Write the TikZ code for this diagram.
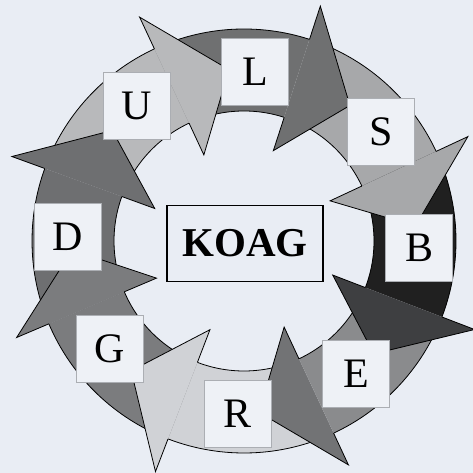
\documentclass[tikz,border=0pt]{standalone}
\usepackage{fontspec}
\setmainfont{Liberation Serif}
\definecolor{bgc}{HTML}{E9EDF4}
\definecolor{boxc}{HTML}{EEF1F6}
\definecolor{boxline}{HTML}{ABAEB3}
\definecolor{cU}{HTML}{B8B9BB}
\definecolor{cL}{HTML}{6F7071}
\definecolor{cS}{HTML}{A7A8AA}
\definecolor{cB}{HTML}{202020}
\definecolor{cBh}{HTML}{3E3F41}
\definecolor{cE}{HTML}{8A8B8D}
\definecolor{cEh}{HTML}{727375}
\definecolor{cR}{HTML}{D0D2D6}
\definecolor{cG}{HTML}{7B7C7E}
\definecolor{cD}{HTML}{6E6F71}
\newcommand\ringbody[3]{%
  \fill[#3] (#1:212pt) arc[start angle=#1, end angle=#2, radius=212pt]
     -- (#2:130pt) arc[start angle=#2, end angle=#1, radius=130pt] -- cycle;
  \draw[ringline] (#1:212pt) arc[start angle=#1, end angle=#2, radius=212pt];
  \draw[ringline] (#2:130pt) arc[start angle=#2, end angle=#1, radius=130pt];}
\newcommand\ringhead[2]{%
  \fill[#2] (#1:247pt) -- ({#1-20}:172pt) -- (#1:95pt) -- cycle;
  \draw[ringline] (#1:212pt) -- (#1:247pt) -- ({#1-20}:172pt) -- (#1:95pt) -- (#1:130pt);}
\begin{document}
\begin{tikzpicture}[x=1pt,y=1pt,
  ringline/.style={draw=black, line width=0.8pt},
  lbox/.style={draw=boxline, fill=boxc, line width=0.8pt, minimum size=67pt,
    inner sep=0pt, font=\fontsize{42}{44}\selectfont},
  mainbox/.style={draw=black, line width=1.6pt, minimum width=156pt,
    minimum height=76pt, inner sep=0pt, font=\bfseries\fontsize{41}{44}\selectfont}]
\useasboundingbox (0,0) rectangle (473,473);
\fill[bgc] (0,0) rectangle (473,473);
\begin{scope}[shift={(244,232)}]
  % bodies
  \ringbody{160}{115}{cU}
  \ringbody{115}{72}{cL}
  \ringbody{72}{25}{cS}
  \ringbody{25}{-21}{cB}
  \ringbody{-21}{-65}{cE}
  \ringbody{-65}{-111}{cR}
  \ringbody{-111}{-157}{cG}
  \ringbody{203}{160}{cD}
  % heads
  \ringhead{115}{cU}
  \ringhead{72}{cL}
  \ringhead{25}{cS}
  \ringhead{-21}{cBh}
  \ringhead{-65}{cEh}
  \ringhead{-111}{cR}
  \ringhead{-157}{cG}
  \ringhead{160}{cD}
\end{scope}
\node[lbox] (U) at (137,367) {U};
\node[lbox] (L) at (255,401.5) {L};
\node[lbox] (S) at (381,341) {S};
\node[lbox] (B) at (419,225.5) {B};
\node[lbox] (E) at (356,99.5) {E};
\node[lbox] (R) at (237.5,59) {R};
\node[lbox] (G) at (110,124) {G};
\node[lbox] (D) at (67.5,236) {D};
\node[mainbox] (K) at (245,229.5) {KOAG};
\end{tikzpicture}
\end{document}
